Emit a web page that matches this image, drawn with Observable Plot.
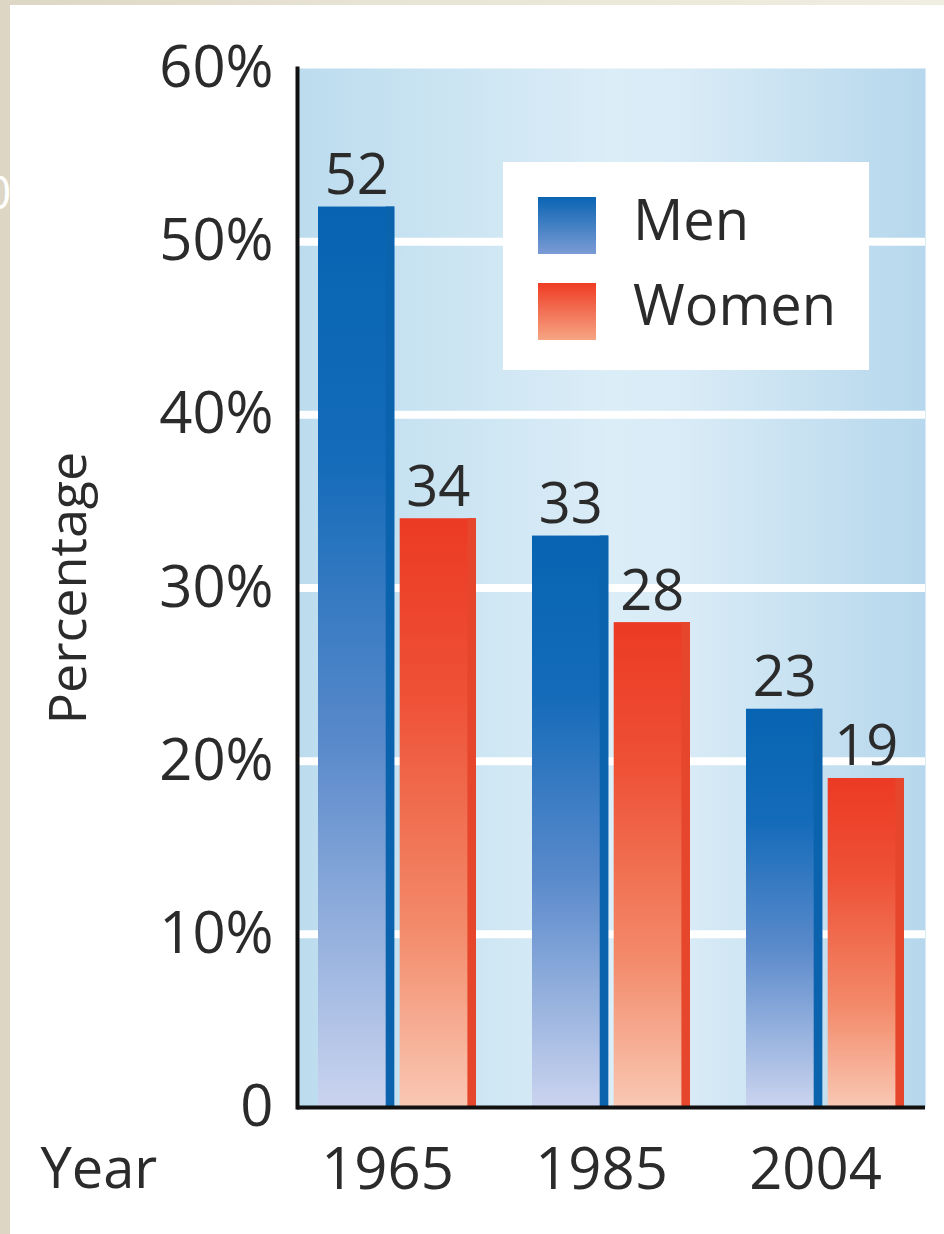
<!DOCTYPE html>
<html>
<head>
<meta charset="utf-8">
<script src="https://cdn.jsdelivr.net/npm/d3@7"></script>
<script src="https://cdn.jsdelivr.net/npm/@observablehq/plot@0.6"></script>
<style>
  html, body { margin: 0; padding: 0; }
  body { font-family: "Open Sans", sans-serif; }
  #page { position: relative; width: 944px; height: 1234px; overflow: hidden;
    background: linear-gradient(to right, #ddd6c4, #e8e4d4 40%, #f0eee1); }
  #panel { position: absolute; left: 10px; top: 5px; right: 0; bottom: 0; background: #fff; }
  #chart { position: absolute; left: 0; top: 0; }
  #legend { position: absolute; left: 503px; top: 162px; width: 366px; height: 208px; background: #fff; }
  .sw { position: absolute; left: 35px; width: 58px; height: 57px; }
  .lt { position: absolute; left: 130px; font-size: 56px; line-height: 56px; color: #2b2b2b; white-space: nowrap; }
  #ghost { position: absolute; left: -15px; top: 168px; font-size: 46px; line-height: 46px; color: #fff; }
</style>
</head>
<body>
<div id="page">
  <div id="panel"></div>
  <div id="ghost">0</div>
  <div id="chart"></div>
  <div id="legend">
    <div class="sw" style="top:35px;background:linear-gradient(#0a64b3,#7b9bd4)"></div>
    <div class="lt" style="top:28px">Men</div>
    <div class="sw" style="top:121px;background:linear-gradient(#ef3c24,#f6a584)"></div>
    <div class="lt" style="top:113px">Women</div>
  </div>
</div>
<script>
// ---- data ----
const years = ["1965", "1985", "2004"];
const men = [52, 33, 23];
const women = [34, 28, 19];
const yTicks = [0, 10, 20, 30, 40, 50, 60];
const gridValues = [10, 20, 30, 40, 50];

const table = years.map((year, i) => ({year, men: men[i], women: women[i]}));

const W = 944, H = 1234, mL = 297, mR = 19, mT = 68, mB = 127;
const padIn = 0.26, padOut = 0.097;
const bw = d3.scaleBand().domain(years).range([mL, W - mR]).paddingInner(padIn).paddingOuter(padOut).bandwidth();
const gap = 5, edge = 9;
const half = bw / 2;
const barCenterOffset = (half - gap / 2) / 2 + gap / 2;
const textColor = "#2b2b2b";

const plot = Plot.plot({
  width: W, height: H,
  marginLeft: mL, marginRight: mR, marginTop: mT, marginBottom: mB,
  style: {background: "transparent", fontFamily: "'Open Sans', sans-serif", color: textColor},
  x: {type: "band", domain: years, paddingInner: padIn, paddingOuter: padOut, label: null},
  y: {domain: [0, 60], label: null},
  marks: [
    Plot.frame({fill: "url(#gBg)"}),
    Plot.ruleY(gridValues, {stroke: "#fff", strokeWidth: 8}),
    // Men bars: gradient body + dark right edge
    Plot.barY(table, {x: "year", y: "men", fill: "url(#gMen)", insetRight: half + gap / 2}),
    Plot.barY(table, {x: "year", y: "men", fill: "#0b62ad", insetLeft: half - gap / 2 - edge, insetRight: half + gap / 2}),
    // Women bars
    Plot.barY(table, {x: "year", y: "women", fill: "url(#gWomen)", insetLeft: half + gap / 2}),
    Plot.barY(table, {x: "year", y: "women", fill: "#e6472c", insetLeft: bw - edge}),
    // value labels
    Plot.text(table, {x: "year", y: "men", text: d => String(d.men), dx: -barCenterOffset, dy: -31, fontSize: 56, fill: textColor}),
    Plot.text(table, {x: "year", y: "women", text: d => String(d.women), dx: barCenterOffset, dy: -31, fontSize: 56, fill: textColor}),
    // axes
    Plot.ruleY([0], {stroke: "#111", strokeWidth: 4}),
    Plot.frame({anchor: "left", stroke: "#111", strokeWidth: 4}),
    Plot.axisY({ticks: yTicks, tickFormat: d => d === 0 ? "0" : d + "%", tickSize: 0, tickPadding: 24, fontSize: 58, label: null}),
    Plot.axisX({tickSize: 0, tickPadding: 40, fontSize: 58, dx: -10, label: null}),
    // axis titles
    Plot.text(["Percentage"], {frameAnchor: "left", textAnchor: "middle", lineAnchor: "middle", dx: -228, rotate: -90, fontSize: 52, fill: textColor}),
    Plot.text(["Year"], {frameAnchor: "bottom-left", textAnchor: "start", dx: -257, dy: 80, fontSize: 56, fill: textColor})
  ]
});

const svg = d3.select(plot);
const defs = svg.insert("defs", ":first-child");
function grad(id, stops, horizontal) {
  const g = defs.append("linearGradient").attr("id", id)
    .attr("x1", 0).attr("y1", 0).attr("x2", horizontal ? 1 : 0).attr("y2", horizontal ? 0 : 1);
  stops.forEach(([o, c]) => g.append("stop").attr("offset", o).attr("stop-color", c));
}
grad("gMen", [[0, "#0764b2"], [0.28, "#146bb9"], [0.6, "#5a8acb"], [1, "#cbd4ef"]]);
grad("gWomen", [[0, "#ec3a24"], [0.3, "#ee5136"], [0.7, "#f38b6b"], [1, "#f9c8b4"]]);
grad("gBg", [[0, "#bcdcee"], [0.5, "#dbedf7"], [0.62, "#d8ebf6"], [1, "#b6d7ec"]], true);

document.getElementById("chart").appendChild(plot);
</script>
</body>
</html>
